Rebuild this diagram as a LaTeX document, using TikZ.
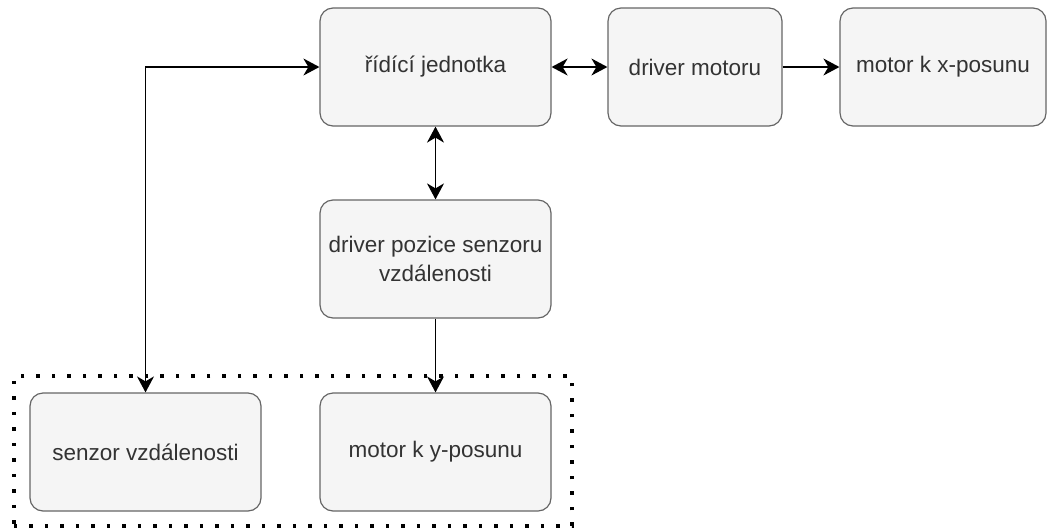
\documentclass[tikz,border=0pt]{standalone}
\usepackage{fontspec}
\setmainfont{Liberation Sans}
\usetikzlibrary{arrows.meta}
\definecolor{boxfill}{HTML}{F5F5F5}
\definecolor{boxdraw}{HTML}{666666}
\definecolor{boxtext}{HTML}{333333}
\tikzset{
  block/.style={draw=boxdraw, fill=boxfill, line width=1.2pt, rounded corners=13pt,
    minimum width=231pt, minimum height=118pt, text=boxtext, align=center,
    font=\fontsize{22.5pt}{29pt}\selectfont, inner sep=2pt},
  tip/.tip={Stealth[length=16pt,width=17pt,inset=5pt]},
  conn/.style={line width=1.5pt, -tip},
  biconn/.style={line width=1.5pt, tip-tip},
  groupbox/.style={draw, line width=3.5pt, dash pattern=on 3.5pt off 12pt}
}
\begin{document}
\begin{tikzpicture}[x=1pt,y=-1pt]
\useasboundingbox (0,0) rectangle (1048,528);
\node[groupbox, minimum width=558pt, minimum height=150pt, anchor=north west, inner sep=0pt] (grp) at (12,374) {};
\node[block] (ridici) at (435.5,67) {řídící jednotka};
\node[block, minimum width=174pt] (drvm) at (695,67) {driver motoru};
\node[block, minimum width=206pt] (motx) at (943,67) {motor k x-posunu};
\node[block] (drvp) at (435.5,259) {driver pozice senzoru\\vzdálenosti};
\node[block] (senzor) at (145.5,452) {senzor vzdálenosti};
\node[block] (moty) at (435.5,452) {motor k y-posunu};
\draw[biconn] (senzor.north) |- (ridici.west);
\draw[biconn] (ridici.east) -- (drvm.west);
\draw[conn] (drvm.east) -- (motx.west);
\draw[biconn] (ridici.south) -- (drvp.north);
\draw[conn] (drvp.south) -- (moty.north);
\end{tikzpicture}
\end{document}
